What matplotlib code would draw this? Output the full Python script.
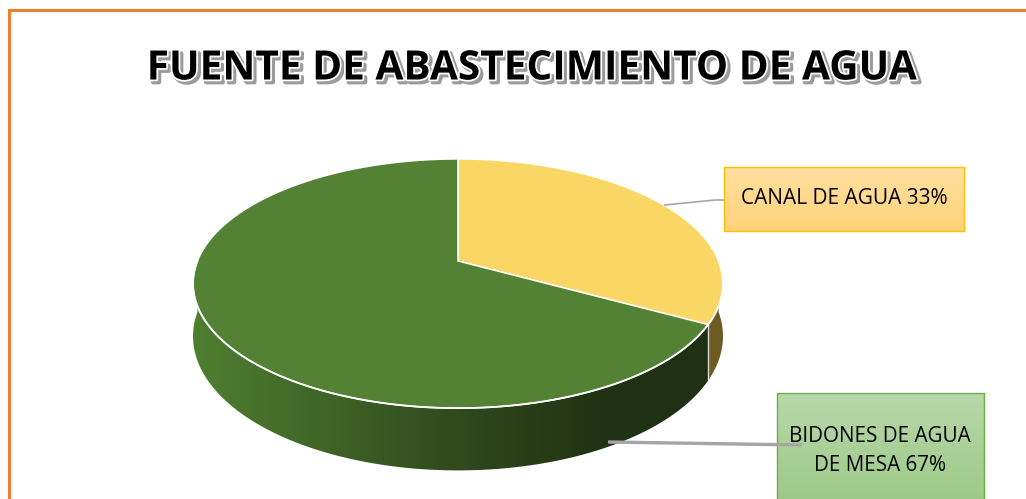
import numpy as np
import matplotlib
matplotlib.use('Agg')
import matplotlib.pyplot as plt
from matplotlib.patches import Polygon, Rectangle
import matplotlib.patheffects as pe
from matplotlib.colors import to_rgb

# ---------------- data ----------------
title = "FUENTE DE ABASTECIMIENTO DE AGUA"
categories = ["CANAL DE AGUA", "BIDONES DE AGUA DE MESA"]
values = [33, 67]
label_lines = [["CANAL DE AGUA 33%"], ["BIDONES DE AGUA", "DE MESA 67%"]]
top_colors = ["#FAD765", "#548235"]

# ---------------- figure ----------------
W, H = 1026, 499
fig = plt.figure(figsize=(W / 100, H / 100), dpi=100)
ax = fig.add_axes([0, 0, 1, 1])
ax.set_xlim(0, W)
ax.set_ylim(H, 0)
ax.axis('off')

# perspective pie geometry (pixel space)
cx, cy, a, b, k, D = 458, 261, 260.6, 120.5, 0.181, 51


def proj(theta, z=0.0):
    X = np.sin(theta)
    Y = np.cos(theta)
    w = 1 + k * Y
    return cx + a * X / w, cy + (-b * Y + z) / w


grad_x = [193, 330, 458, 600, 730]
grad_c = ["#4f7f30", "#3f6327", "#30491d", "#203314", "#1f3112"]


def horiz_gradient(x0, x1):
    xs = np.linspace(x0, x1, 400)
    cs = np.array([to_rgb(c) for c in grad_c])
    arr = np.zeros((1, len(xs), 3))
    for i in range(3):
        arr[0, :, i] = np.interp(xs, grad_x, cs[:, i])
    return arr


fracs = np.array(values, dtype=float) / np.sum(values)
bounds = np.concatenate([[0], np.cumsum(fracs)]) * 2 * np.pi

# sides (front half only: pi/2 .. 3pi/2)
side_flat = ["#6E5B22", None]
for i in range(len(values)):
    t0 = max(bounds[i], np.pi / 2)
    t1 = min(bounds[i + 1], 3 * np.pi / 2)
    if t1 <= t0:
        continue
    ts = np.linspace(t0, t1, 300)
    xt, yt = proj(ts)
    xb, yb = proj(ts[::-1], D)
    pts = np.column_stack([np.concatenate([xt, xb]), np.concatenate([yt, yb])])
    if side_flat[i]:
        ax.add_patch(Polygon(pts, closed=True, facecolor=side_flat[i],
                             edgecolor='none', zorder=1))
    else:
        poly = Polygon(pts, closed=True, facecolor='none', edgecolor='none',
                       zorder=1)
        ax.add_patch(poly)
        x0, x1 = pts[:, 0].min() - 2, pts[:, 0].max() + 2
        y0, y1 = pts[:, 1].min() - 2, pts[:, 1].max() + 2
        im = ax.imshow(horiz_gradient(x0, x1), extent=[x0, x1, y1, y0],
                       origin='upper', aspect='auto',
                       interpolation='bilinear', zorder=1)
        im.set_clip_path(poly)

# vertical separator on side
for t in bounds[1:-1]:
    if np.pi / 2 < t < 3 * np.pi / 2:
        x1, y1 = proj(t)
        x2, y2 = proj(t, D)
        ax.plot([x1, x2], [y1, y2], color="#d9d9d9", lw=1.0, zorder=2)

# top wedges
for i in range(len(values)):
    ts = np.linspace(bounds[i], bounds[i + 1], 200)
    xs, ys = proj(ts)
    pts = np.column_stack([np.concatenate([[cx], xs]), np.concatenate([[cy], ys])])
    ax.add_patch(Polygon(pts, closed=True, facecolor=top_colors[i],
                         edgecolor="white", lw=1.1, zorder=3))

# white front rim
ts = np.linspace(np.pi / 2, 3 * np.pi / 2, 300)
xs, ys = proj(ts)
ax.plot(xs, ys, color="white", lw=1.3, zorder=4)

# ---------------- title ----------------
renderer = fig.canvas.get_renderer()
tt = ax.text(531, 69, title, ha='center', va='center', fontsize=30,
             fontweight='bold', family=['Open Sans', 'DejaVu Sans'],
             color='black', zorder=10)
bb = tt.get_window_extent(renderer)
tt.set_fontsize(30 * 770 / bb.width)
tt.set_path_effects([
    pe.Stroke(linewidth=3.0, foreground='#9b9b9b', offset=(2.0, -2.0)),
    pe.SimplePatchShadow(offset=(2.0, -2.0), shadow_rgbFace='#9b9b9b', alpha=1.0),
    pe.Stroke(linewidth=2.6, foreground='white'),
    pe.Normal(),
])


# ---------------- label boxes ----------------
def grad_box(x0, x1, y0, y1, ctop, cbot, edge, z):
    c = np.array([to_rgb(ctop), to_rgb(cbot)])
    n = 64
    arr = np.zeros((n, 1, 3))
    for i in range(3):
        arr[:, 0, i] = np.linspace(c[0, i], c[1, i], n)
    im = ax.imshow(arr, extent=[x0, x1, y1, y0], origin='upper',
                   aspect='auto', interpolation='bilinear', zorder=z)
    rect = Rectangle((x0, y0), x1 - x0, y1 - y0, facecolor='none',
                     edgecolor=edge, lw=1.0, zorder=z + 0.1)
    ax.add_patch(rect)
    im.set_clip_path(rect)


grad_box(724, 964, 167, 231, "#FFE0A0", "#FFD27A", "#FFC000", 6)
grad_box(777, 984, 393, 520, "#B8D8AA", "#98C782", "#70AD47", 6)

# leader lines
ax.plot([665, 715, 724], [205, 200, 200], color='#A6A6A6', lw=1.2, zorder=5)
ax.plot([608, 802], [442, 445], color='#A5A5A5', lw=2.4, zorder=8,
        solid_capstyle='butt')

label_fam = ['Open Sans', 'DejaVu Sans']
t1 = ax.text(844, 199, label_lines[0][0], ha='center', va='center',
             fontsize=14, family=label_fam, color='black', zorder=9)
bb = t1.get_window_extent(renderer)
t1.set_fontsize(14 * 208 / bb.width)

t2 = ax.text(880, 436, label_lines[1][0], ha='center', va='center',
             fontsize=14, family=label_fam, color='black', zorder=9)
bb = t2.get_window_extent(renderer)
fs2 = 14 * 182 / bb.width
t2.set_fontsize(fs2)
ax.text(880, 465.5, label_lines[1][1], ha='center', va='center',
        fontsize=fs2, family=label_fam, color='black', zorder=9)

# ---------------- orange frame ----------------
ax.plot([8.5, W + 10], [9.5, 9.5], color='#ED7D31', lw=2.2,
        solid_capstyle='projecting', zorder=20, clip_on=False)
ax.plot([8.5, 8.5], [9.5, H + 10], color='#ED7D31', lw=2.2,
        solid_capstyle='projecting', zorder=20, clip_on=False)

ax.set_xlim(0, W)
ax.set_ylim(H, 0)
fig.savefig("out.png", dpi=100)
